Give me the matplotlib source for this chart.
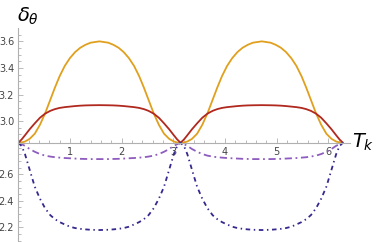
import numpy as np
import matplotlib
matplotlib.use('Agg')
import matplotlib.pyplot as plt

x_half = [0.0, 0.066, 0.13, 0.22, 0.32, 0.42, 0.52, 0.62, 0.71, 0.80, 0.90,
          1.00, 1.10, 1.20, 1.30, 1.40, np.pi / 2]
orange = [2.837, 2.839, 2.846, 2.866, 2.905, 2.972, 3.058, 3.160, 3.252, 3.337, 3.415,
          3.474, 3.519, 3.552, 3.574, 3.590, 3.600]
red = [2.837, 2.862, 2.893, 2.938, 2.983, 3.025, 3.056, 3.077, 3.090, 3.099, 3.105,
       3.109, 3.113, 3.116, 3.118, 3.119, 3.120]
purple = [2.837, 2.826, 2.814, 2.790, 2.769, 2.752, 2.740, 2.733, 2.728, 2.725, 2.722,
          2.720, 2.718, 2.716, 2.715, 2.714, 2.714]
navy = [2.837, 2.812, 2.752, 2.635, 2.506, 2.416, 2.344, 2.292, 2.262, 2.240, 2.222,
        2.205, 2.195, 2.189, 2.185, 2.182, 2.180]

y_axis_at = 2.837
x_ticks = [1, 2, 3, 4, 5, 6]
y_ticks = [2.2, 2.4, 2.6, 3.0, 3.2, 3.4, 3.6]


def full(yh):
    xh = np.array(x_half)
    yh = np.array(yh)
    xp = np.concatenate([xh, np.pi - xh[::-1][1:]])
    yp = np.concatenate([yh, yh[::-1][1:]])
    return np.concatenate([xp, xp[1:] + np.pi]), np.concatenate([yp, yp[1:]])


fig = plt.figure(figsize=(3.8, 2.42), dpi=100)
ax = fig.add_axes([0.048, 0.0, 0.873, 0.884])

styles = [
    (orange, '#E0A01E', '-'),
    (red, '#B0281E', '-'),
    (purple, '#8E5CBE', (0, (4, 2, 1, 2))),
    (navy, '#35288E', (0, (2.5, 2, 0.8, 2))),
]
for yh, c, ls in styles:
    xs, ys = full(yh)
    ax.plot(xs, ys, color=c, lw=1.3, ls=ls, solid_capstyle='round',
            solid_joinstyle='round')

ax.set_xlim(0, 6.42)
ax.set_ylim(2.09, 3.70)
for s in ['top', 'right']:
    ax.spines[s].set_visible(False)
ax.spines['left'].set_position(('data', 0))
ax.spines['bottom'].set_position(('data', y_axis_at))
for s in ['left', 'bottom']:
    ax.spines[s].set_color('#b0b0b0')
    ax.spines[s].set_linewidth(0.8)

ax.set_xticks(x_ticks)
ax.set_xticks(np.arange(0.2, 6.4, 0.2), minor=True)
ax.set_yticks(y_ticks)
ax.set_yticks(np.arange(2.1, 3.70, 0.05), minor=True)
ax.tick_params(which='both', direction='in', color='#b0b0b0', width=0.6,
               labelsize=7, labelcolor='#444444')
ax.tick_params(which='major', length=3.5, pad=3)
ax.tick_params(which='minor', length=2)
ax.set_yticklabels([f'{v:.1f}' for v in y_ticks])
ax.patch.set_visible(False)

fig.text(0.045, 0.975, r'$\delta_\theta$', fontsize=14, va='top', ha='left')
fig.text(0.925, 0.41, r'$T_k$', fontsize=14, va='center', ha='left')

fig.savefig('out.png', dpi=100)
